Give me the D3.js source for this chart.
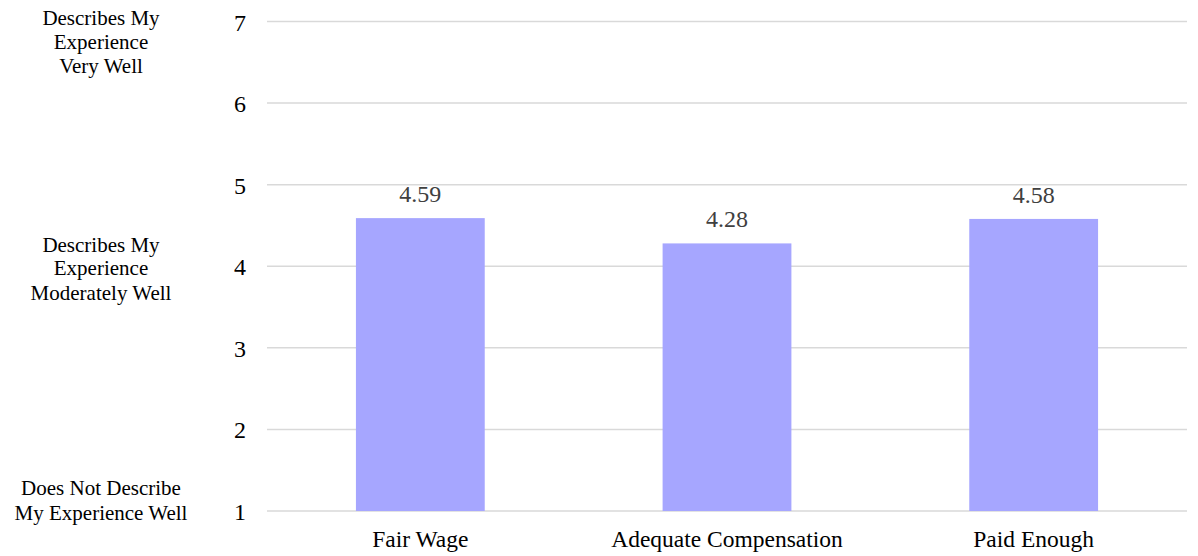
<!DOCTYPE html>
<html><head><meta charset="utf-8">
<script src="https://cdn.jsdelivr.net/npm/d3@7"></script>
<style>body{margin:0;background:#fff}</style>
</head><body><svg id="c" width="1198" height="556"></svg>
<script>
const categories = ["Fair Wage", "Adequate Compensation", "Paid Enough"];
const values = [4.59, 4.28, 4.58];
const valueLabels = ["4.59", "4.28", "4.58"];
const yTicks = [1, 2, 3, 4, 5, 6, 7];
const scaleLabels = [
  {v: 7, lines: ["Describes My", "Experience", "Very Well"]},
  {v: 4, lines: ["Describes My", "Experience", "Moderately Well"]},
  {v: 1, lines: ["Does Not Describe", "My Experience Well"]}
];
const FONT = "'Liberation Serif'";

const svg = d3.select("#c");
const x = d3.scaleBand().domain(categories).range([267, 1187]).paddingInner(0.58).paddingOuter(0.29);
const y = d3.scaleLinear().domain([1, 7]).range([511, 21.5]);

// gridlines
svg.append("g").selectAll("line").data(yTicks).join("line")
  .attr("x1", 267).attr("x2", 1187)
  .attr("y1", d => y(d)).attr("y2", d => y(d))
  .attr("stroke", "#d9d9d9").attr("stroke-width", 1.5);

// y axis tick labels
const yAxis = d3.axisLeft(y).tickValues(yTicks).tickSize(0).tickPadding(0).tickFormat(d3.format("d"));
const ya = svg.append("g").attr("transform", "translate(246,0)").call(yAxis)
  .attr("font-family", null).attr("font-size", null);
ya.select(".domain").remove();
ya.selectAll("text").attr("dy", null).attr("y", 8.5)
  .attr("font-size", 24).attr("fill", "#000").style("font-family", FONT);

// bars
svg.append("g").selectAll("rect").data(values).join("rect")
  .attr("x", (d, i) => x(categories[i]))
  .attr("width", x.bandwidth())
  .attr("y", d => y(d))
  .attr("height", d => y(1) - y(d))
  .attr("fill", "#a6a6ff");

// value labels
svg.append("g").selectAll("text").data(values).join("text")
  .attr("x", (d, i) => x(categories[i]) + x.bandwidth() / 2)
  .attr("y", d => y(d) - 16)
  .attr("text-anchor", "middle")
  .attr("font-size", 24).attr("fill", "#404040").style("font-family", FONT)
  .text((d, i) => valueLabels[i]);

// x axis labels
const xAxis = d3.axisBottom(x).tickSize(0).tickPadding(0);
const xa = svg.append("g").attr("transform", "translate(0,511)").call(xAxis)
  .attr("font-family", null).attr("font-size", null);
xa.select(".domain").remove();
xa.selectAll("text").attr("dy", null).attr("y", 35.5)
  .attr("font-size", 23.5).attr("fill", "#000").style("font-family", FONT);

// left scale labels
const offsetsByValue = {7: [3.5, 27, 51.5], 4: [-14.5, 9, 33.5], 1: [-16, 9]};
scaleLabels.forEach(s => {
  const t = svg.append("text").attr("text-anchor", "middle")
    .attr("font-size", 21).attr("fill", "#000").style("font-family", FONT);
  s.lines.forEach((ln, i) => {
    t.append("tspan").attr("x", 101).attr("y", y(s.v) + offsetsByValue[s.v][i])
      .style("font-family", FONT).text(ln);
  });
});
</script></body></html>
